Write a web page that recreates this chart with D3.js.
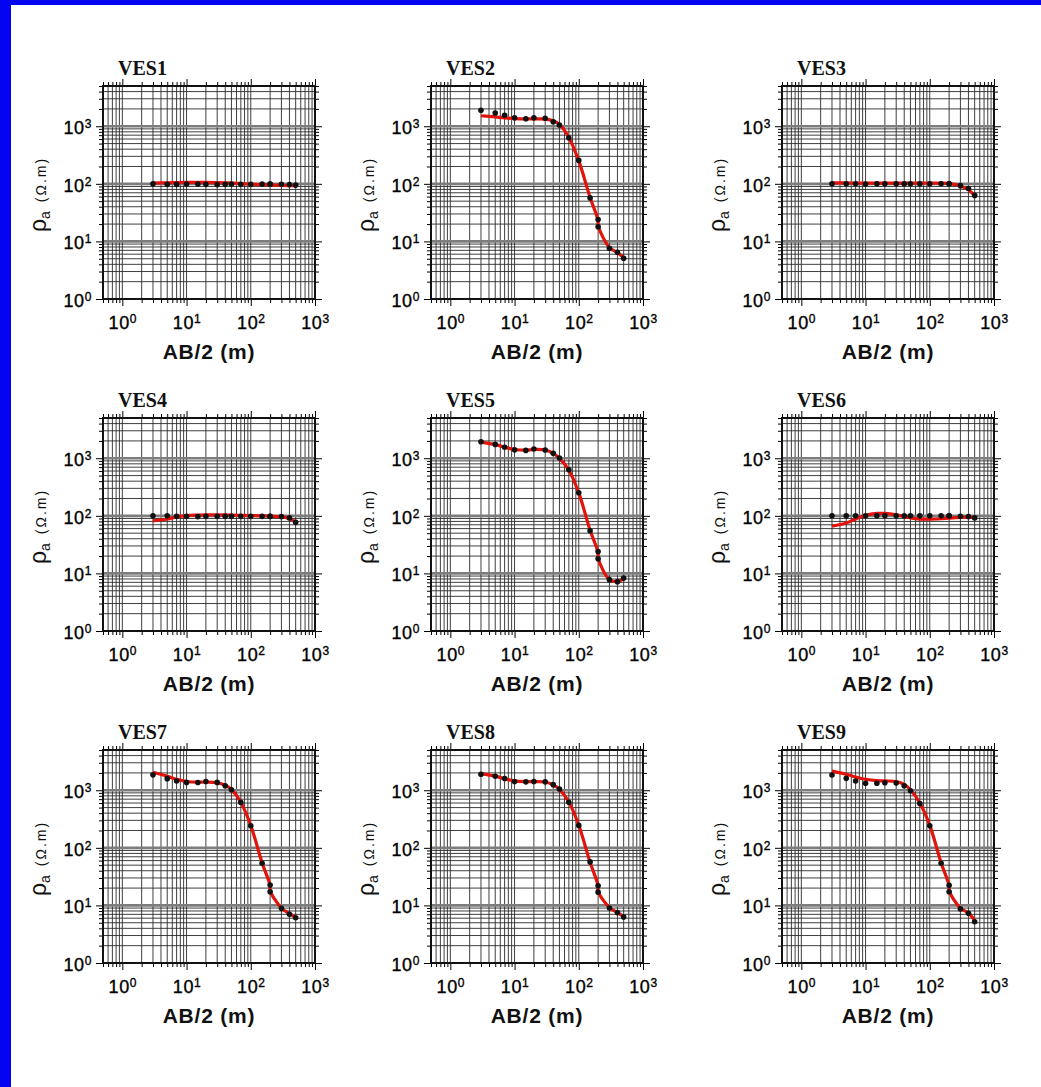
<!DOCTYPE html>
<html>
<head>
<meta charset="utf-8">
<script src="https://cdn.jsdelivr.net/npm/d3@7"></script>
<style>
  body { margin: 0; background: #fff; }
  svg { display: block; }
  .ves-title { font-family: "Liberation Serif", "Times New Roman", serif; font-weight: bold; font-size: 20px; fill: #111; }
  .x-title { font-family: "Liberation Sans", Arial, sans-serif; font-weight: bold; font-size: 21px; letter-spacing: 0.8px; fill: #111; }
  .y-title { font-family: "Liberation Sans", Arial, sans-serif; fill: #111; }
  .power { font-family: "Liberation Sans", Arial, sans-serif; font-size: 18px; letter-spacing: 0.6px; fill: #000; stroke: #000; stroke-width: 0.35px; }
</style>
</head>
<body>
<div id="chart"></div>
<script>
// AB/2 spacings (m) - 200 m is read twice (overlapping MN segments)
const abHalf = [3, 5, 7, 10, 15, 20, 30, 40, 50, 70, 100, 150, 200, 200, 300, 400, 500];

const stations = ['VES1', 'VES2', 'VES3', 'VES4', 'VES5', 'VES6', 'VES7', 'VES8', 'VES9'];

// apparent resistivity, field readings (ohm.m)
const ves1Obs = [100, 98, 98, 99, 99, 98, 97, 98, 99, 98, 98, 99, 99, 99, 98, 97, 95];
const ves2Obs = [1900, 1700, 1550, 1400, 1350, 1400, 1380, 1200, 1050, 630, 255, 57, 24, 18, 7.6, 6.5, 5.1];
const ves3Obs = [100, 100, 100, 99, 100, 100, 100, 100, 100, 100, 100, 100, 100, 100, 93, 83, 63];
const ves4Obs = [100, 100, 98, 98, 97, 98, 98, 98, 98, 98, 98, 98, 98, 98, 97, 92, 77];
const ves5Obs = [1930, 1740, 1550, 1400, 1370, 1450, 1390, 1220, 1010, 630, 252, 55, 24, 18, 7.8, 7.2, 8.3];
const ves6Obs = [100, 100, 100, 100, 100, 100, 100, 100, 100, 100, 100, 100, 100, 100, 98, 97, 92];
const ves7Obs = [1850, 1590, 1450, 1370, 1360, 1420, 1370, 1200, 1020, 615, 242, 54, 22.6, 17.3, 8.9, 7.0, 6.1];
const ves8Obs = [1900, 1750, 1600, 1420, 1400, 1420, 1400, 1250, 1050, 620, 245, 57, 22, 17, 9, 7.5, 6.3];
const ves9Obs = [1840, 1610, 1450, 1320, 1320, 1350, 1330, 1200, 980, 590, 242, 54, 22.3, 17.3, 8.7, 7.3, 5.2];

// model response (red curve)
const ves1Fit = [103, 104, 105, 106, 106, 106, 105, 104, 103, 101, 99, 97, 96, 96, 94, 93, 92];
const ves2Fit = [1520, 1450, 1400, 1360, 1340, 1340, 1330, 1250, 1080, 640, 250, 58, 23, 19, 7.8, 6.4, 5.2];
const ves3Fit = [104, 104, 103, 103, 103, 103, 103, 103, 103, 103, 103, 103, 102, 102, 92, 79, 62];
const ves4Fit = [82, 88, 96, 101, 103, 104, 104, 104, 103, 102, 101, 100, 99, 99, 96, 90, 78];
const ves5Fit = [1900, 1720, 1560, 1420, 1380, 1420, 1390, 1220, 1000, 620, 250, 56, 23, 18.5, 7.8, 7.2, 8.2];
const ves6Fit = [66, 75, 88, 102, 110, 110, 104, 97, 92, 88, 88, 89, 91, 91, 94, 95, 94];
const ves7Fit = [2050, 1750, 1550, 1420, 1380, 1390, 1360, 1220, 1030, 620, 245, 55, 22, 18, 9, 7.2, 6.2];
const ves8Fit = [1920, 1760, 1580, 1450, 1410, 1410, 1390, 1240, 1040, 625, 247, 56, 22, 17.5, 9.2, 7.5, 6.4];
const ves9Fit = [2150, 1900, 1700, 1550, 1470, 1450, 1420, 1260, 1020, 600, 245, 55, 22, 18, 9, 7.4, 5.5];

const observed = [ves1Obs, ves2Obs, ves3Obs, ves4Obs, ves5Obs, ves6Obs, ves7Obs, ves8Obs, ves9Obs];
const fitted = [ves1Fit, ves2Fit, ves3Fit, ves4Fit, ves5Fit, ves6Fit, ves7Fit, ves8Fit, ves9Fit];

// annotated decades on both axes
const xDecades = [1, 10, 100, 1000];
const yDecades = [1, 10, 100, 1000];

class SoundingPanel {

  constructor(_config, _obs, _fit) {
    this.config = {
      parent: _config.parent,
      left: _config.left,
      top: _config.top,
      title: _config.title,
      width: 212,
      height: 213
    }
    this.obs = _obs;
    this.fit = _fit;

    this.initVis();
  }

  initVis() {
    let vis = this;

    vis.width = vis.config.width;
    vis.height = vis.config.height;

    vis.xScale = d3.scaleLog()
      .domain([0.5, 1000])
      .range([0, vis.width]);

    vis.yScale = d3.scaleLog()
      .domain([1, 5000])
      .range([vis.height, 0]);

    vis.chartArea = vis.config.parent.append('g')
      .attr('transform', `translate(${vis.config.left},${vis.config.top})`);

    vis.renderVis();
  }

  renderVis() {
    let vis = this;
    const isDecade = v => Math.abs(Math.log10(v) - Math.round(Math.log10(v))) < 1e-9;
    const xMinor = vis.xScale.ticks().filter(v => !isDecade(v));
    const yMinor = vis.yScale.ticks().filter(v => !isDecade(v));

    // grid
    const grid = vis.chartArea.append('g').attr('class', 'grid');
    grid.selectAll('.vgrid')
      .data(vis.xScale.ticks())
      .join('line')
      .attr('x1', d => vis.xScale(d)).attr('x2', d => vis.xScale(d))
      .attr('y1', 0).attr('y2', vis.height)
      .attr('stroke', '#2a2a2a')
      .attr('stroke-width', 0.9);
    grid.selectAll('.hgrid')
      .data(yMinor)
      .join('line')
      .attr('x1', 0).attr('x2', vis.width)
      .attr('y1', d => vis.yScale(d)).attr('y2', d => vis.yScale(d))
      .attr('stroke', '#2a2a2a')
      .attr('stroke-width', 0.9);
    grid.selectAll('.hmajor')
      .data(yDecades.slice(1))
      .join('line')
      .attr('x1', 0).attr('x2', vis.width)
      .attr('y1', d => vis.yScale(d)).attr('y2', d => vis.yScale(d))
      .attr('stroke', '#7d7d7d')
      .attr('stroke-width', 2.6);

    // outside ticks on all four sides
    const noDomain = g => g.select('.domain').remove();
    vis.chartArea.append('g').attr('transform', `translate(0,${vis.height})`)
      .call(d3.axisBottom(vis.xScale).tickValues(xMinor).tickSize(4).tickFormat('')).call(noDomain);
    vis.chartArea.append('g')
      .call(d3.axisTop(vis.xScale).tickValues(xMinor).tickSize(4).tickFormat('')).call(noDomain);
    vis.chartArea.append('g')
      .call(d3.axisTop(vis.xScale).tickValues(xDecades).tickSize(7).tickFormat('')).call(noDomain);
    vis.chartArea.append('g')
      .call(d3.axisLeft(vis.yScale).tickValues(yMinor).tickSize(4).tickFormat('')).call(noDomain);
    vis.chartArea.append('g').attr('transform', `translate(${vis.width},0)`)
      .call(d3.axisRight(vis.yScale).tickValues(yMinor).tickSize(4).tickFormat('')).call(noDomain);
    vis.chartArea.append('g').attr('transform', `translate(${vis.width},0)`)
      .call(d3.axisRight(vis.yScale).tickValues(yDecades).tickSize(7).tickFormat('')).call(noDomain);

    const powerLabel = function (d) {
      const t = d3.select(this);
      t.text(null).attr('class', 'power');
      t.append('tspan').text('10');
      t.append('tspan').attr('dy', '-0.5em').attr('font-size', '12px').text(Math.round(Math.log10(d)));
    };

    vis.xAxisG = vis.chartArea.append('g')
      .attr('transform', `translate(0,${vis.height})`)
      .call(d3.axisBottom(vis.xScale).tickValues(xDecades).tickSize(7).tickPadding(10))
      .call(noDomain);
    vis.xAxisG.selectAll('.tick text').each(powerLabel);

    vis.yAxisG = vis.chartArea.append('g')
      .call(d3.axisLeft(vis.yScale).tickValues(yDecades).tickSize(7).tickPadding(4))
      .call(noDomain);
    vis.yAxisG.selectAll('.tick text').each(powerLabel).attr('dy', '0.4em');

    // frame
    vis.chartArea.append('rect')
      .attr('width', vis.width)
      .attr('height', vis.height)
      .attr('fill', 'none')
      .attr('stroke', '#111')
      .attr('stroke-width', 2);

    // model curve and readings
    const points = abHalf.map((x, i) => ({ x: x, obs: vis.obs[i], fit: vis.fit[i] }));
    const line = d3.line()
      .x(d => vis.xScale(d.x))
      .y(d => vis.yScale(d.fit))
      .curve(d3.curveCatmullRom.alpha(0.5));

    vis.chartArea.append('path')
      .datum(points)
      .attr('d', line)
      .attr('fill', 'none')
      .attr('stroke', '#e3120b')
      .attr('stroke-width', 3.2)
      .attr('stroke-linejoin', 'round');

    vis.chartArea.selectAll('.reading')
      .data(points)
      .join('circle')
      .attr('class', 'reading')
      .attr('cx', d => vis.xScale(d.x))
      .attr('cy', d => vis.yScale(d.obs))
      .attr('r', 2.8)
      .attr('fill', '#111');

    // titles
    vis.chartArea.append('text')
      .attr('class', 'ves-title')
      .attr('x', 15)
      .attr('y', -11)
      .text(vis.config.title);

    vis.chartArea.append('text')
      .attr('class', 'x-title')
      .attr('x', vis.width / 2)
      .attr('y', vis.height + 60)
      .attr('text-anchor', 'middle')
      .text('AB/2 (m)');

    const yTitle = vis.chartArea.append('text')
      .attr('class', 'y-title')
      .attr('transform', `translate(-57,${vis.height / 2 + 2}) rotate(-90)`)
      .attr('text-anchor', 'middle');
    yTitle.append('tspan').attr('font-size', '23px').text('ρ');
    yTitle.append('tspan').attr('font-size', '14px').attr('dy', 4).text('a');
    yTitle.append('tspan').attr('font-size', '14px').attr('dy', -4).attr('dx', 9)
      .attr('letter-spacing', 2).text('(Ω.m)');
  }
}

const svg = d3.select('#chart').append('svg')
  .attr('width', 1041)
  .attr('height', 1087);

svg.append('rect').attr('width', 1041).attr('height', 1087).attr('fill', '#fff');
svg.append('rect').attr('width', 1041).attr('height', 5).attr('fill', '#0404f2');
svg.append('rect').attr('width', 11).attr('height', 1087).attr('fill', '#0404f2');

const colLeft = [103, 431, 782];
const rowTop = [86, 418, 750];

stations.forEach((name, i) => {
  new SoundingPanel({
    parent: svg,
    left: colLeft[i % 3],
    top: rowTop[Math.floor(i / 3)],
    title: name
  }, observed[i], fitted[i]);
});
</script>
</body>
</html>
